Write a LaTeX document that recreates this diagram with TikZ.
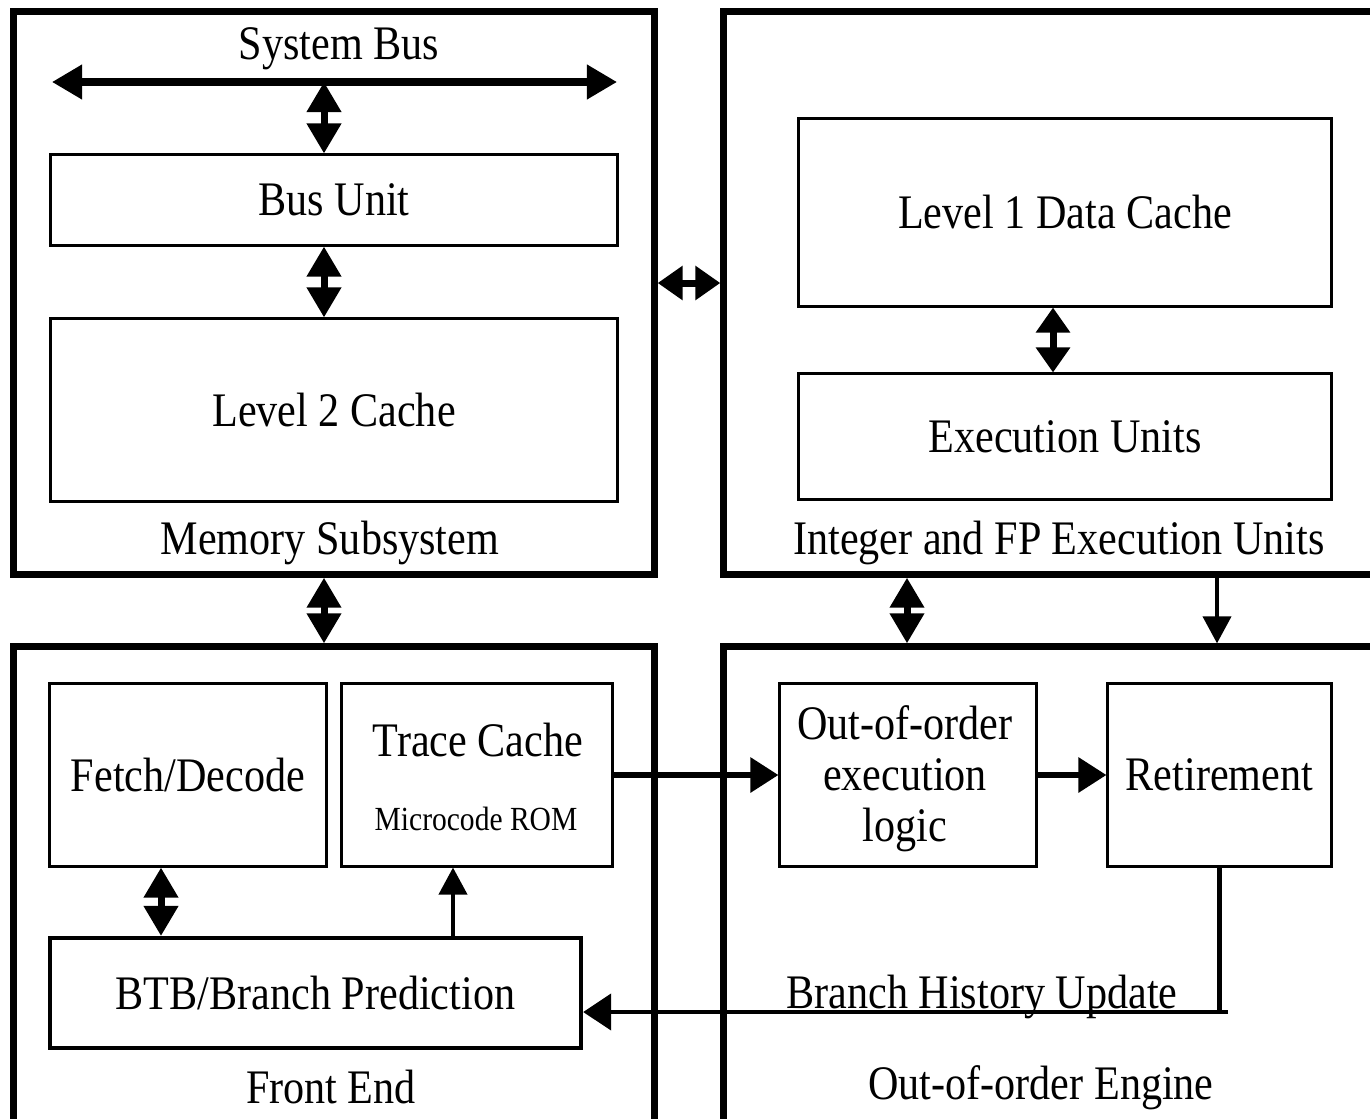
\documentclass[tikz,border=0pt]{standalone}
\usepackage{fontspec}
\setmainfont{Liberation Serif}[FakeStretch=0.875]
\usetikzlibrary{arrows.meta}

\begin{document}
\begin{tikzpicture}[x=0.01cm, y=-0.01cm,
    every node/.style={font=\fontsize{13.7}{14.5}\selectfont},
    part/.style={draw, line width=0.07cm, inner sep=0pt},
    unit/.style={draw, line width=0.03cm, inner sep=0pt},
    dbl/.style={line width=0.07cm, {Triangle[length=0.3cm,width=0.33cm]}-{Triangle[length=0.3cm,width=0.33cm]}},
    short dbl/.style={line width=0.07cm, {Triangle[length=0.25cm,width=0.33cm]}-{Triangle[length=0.25cm,width=0.33cm]}},
    fwd/.style={line width=0.06cm, -{Triangle[length=0.28cm,width=0.34cm]}},
    one/.style={line width=0.04cm, -{Triangle[length=0.27cm,width=0.28cm]}}]
  \useasboundingbox (0,0) rectangle (1370,1118);
  \clip (0,0) rectangle (1370,1118);

  % the four blocks of the processor
  \node[part, minimum width=6.4cm, minimum height=5.62cm] (mem) at (334,293) {};
  \node[part, minimum width=6.96cm, minimum height=5.62cm] (intfp) at (1072,293) {};
  \node[part, minimum width=6.4cm, minimum height=5.13cm] (front) at (334,903.5) {};
  \node[part, minimum width=6.96cm, minimum height=5.13cm] (engine) at (1072,903.5) {};

  \node (sysbustxt) at (339,49) {System Bus};
  \node (memtxt) at (330,543) {Memory Subsystem};
  \node (inttxt) at (1059,543) {Integer and FP Execution Units};
  \node (fronttxt) at (331,1087) {Front End};
  \node (enginetxt) at (1041,1088) {Out-of-order Engine};

  \node[unit, minimum width=5.66cm, minimum height=0.9cm] (bus) at (334,200) {Bus Unit};
  \node[unit, minimum width=5.66cm, minimum height=1.82cm] (ltwo) at (334,410) {Level 2 Cache};
  \node[unit, minimum width=5.32cm, minimum height=1.87cm] (lone) at (1065,212.5) {Level 1 Data Cache};
  \node[unit, minimum width=5.32cm, minimum height=1.25cm] (exec) at (1065,436.5) {Execution Units};

  \node[unit, minimum width=2.76cm, minimum height=1.82cm] (fetch) at (188,775) {Fetch/Decode};
  \node[unit, minimum width=2.7cm, minimum height=1.82cm] (trace) at (477,775) {};
  \node (tctxt) at (478,740) {Trace Cache};
  \node[font=\fontsize{9.6}{11}\selectfont] (romtxt) at (476,819) {Microcode ROM};
  \node[unit, line width=0.04cm, minimum width=5.31cm, minimum height=1.1cm] (btb) at (315.5,993) {BTB/Branch Prediction};
  \node[unit, minimum width=2.56cm, minimum height=1.82cm] (ooo) at (908,775) {};
  \node[align=center] (oootxt) at (905,779) {Out-of-order\\execution\\logic};
  \node[unit, minimum width=2.23cm, minimum height=1.82cm] (retire) at (1219.5,775) {Retirement};

  \coordinate (busl) at (52,82);
  \coordinate (busr) at (617,82);
  \coordinate (col1) at (324,82);
  \coordinate (row1) at (690,283);
  \coordinate (col2) at (1053,340);
  \coordinate (col3) at (907,610);
  \coordinate (col4) at (1217,610);
  \coordinate (col5) at (161,900);
  \coordinate (col6) at (453,900);
  \coordinate (fbk) at (1228,1012);

  \draw[dbl] (busl) -- (busr);
  \draw[dbl] (col1) -- (bus.north -| col1);
  \draw[dbl] (bus.south -| col1) -- (ltwo.north -| col1);
  \draw[dbl] (mem.south -| col1) -- (front.north -| col1);
  \draw[short dbl] (mem.east |- row1) -- (intfp.west |- row1);
  \draw[short dbl] (lone.south -| col2) -- (exec.north -| col2);
  \draw[dbl] (intfp.south -| col3) -- (engine.north -| col3);
  \draw[one] (intfp.south -| col4) -- (engine.north -| col4);
  \draw[dbl] (fetch.south -| col5) -- (btb.north -| col5);
  \draw[one] (btb.north -| col6) -- (trace.south -| col6);
  \draw[fwd] (trace) -- (ooo);
  \draw[fwd] (ooo) -- (retire);

  % branch history feedback
  \draw[line width=0.045cm] (retire.south) |- (fbk);
  \draw[line width=0.045cm, -{Triangle[length=0.28cm,width=0.36cm]}] (fbk) -- (btb.east |- fbk);
  \node[anchor=base] (bhutxt) at (982,1008) {Branch History Update};
\end{tikzpicture}
\end{document}
